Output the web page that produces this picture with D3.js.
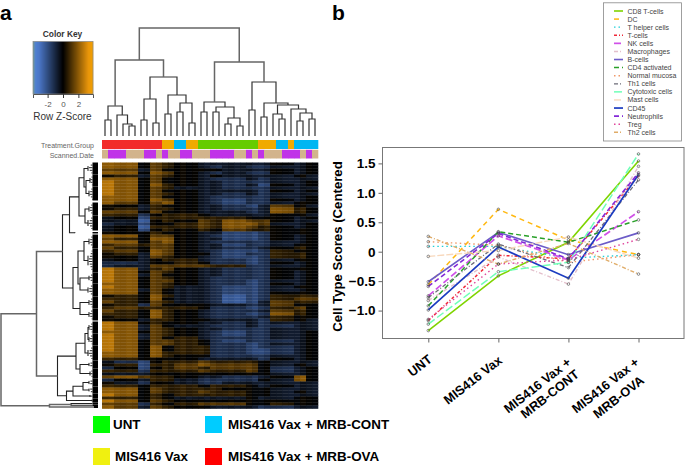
<!DOCTYPE html>
<html><head><meta charset="utf-8">
<script src="https://cdn.jsdelivr.net/npm/d3@7"></script>
<style>html,body{margin:0;padding:0;background:#fff}svg{display:block}text{font-family:"Liberation Sans",Arial,sans-serif}</style>
</head><body><div id="c"></div>
<script>
// ---------- heatmap data ----------
const heatGroupSpans=[2,4,2,2,2,4,2,2,4,2,2,4,2,2];
// per-column shift on top of the group value
const heatColBias=[.3,.4,.1,0,.2,.1,-.2,.1,.3,0,.2,-.2,0,.3,-.1,.1,.2,-.2,.2,-.1,0,.2,-.1,.1,.3,-.2,-.3,.1,.2,.1,-.1,-.2,-.2,.3,.1,-.1];
// each char: 4 = zero, 0 = strongest blue, 8 = strongest orange
const heatRows=[
"77465433333434","77465432322334","66364444333434","77476432322434","45365434333343","77464432232333",
"87464433222334","87475433231434","87465333222333","87464433332434","87465433232333","77464432222334",
"77476432122434","76467432122344","44354433213643","45355433223754","66464433323754","55245543333443",
"34155555544434","33045465766433","23144565776334","34055565765434","34145454655444","44454433112444",
"77466432112434","65477433112434","77467432222334","56566433122344","65466433223454","56476432112544",
"45376442122554","44365432112554","34345532212344","22344542212434","23366665522334","87356433222444",
"87465433222434","87364433222434","87465432222434","87466432212334","77465432212434","87465332112344",
"77364332112334","77464332112444","45475332012555","55474332012566","65465332013655","45264443323644",
"56555542212564","65475432223654","55475432212754","45475432223544","44355443332543","87454433232333",
"87364332232233","87365433222333","77465432122334","87365432122334","87364532222334","87466542122234",
"87466542212334","87474552212234","87474552211234","77475552211234","77475442222334","55444433332434",
"32145565554333","45155676664343","24145656664234","55255565564234","33344444444334","67655433223474",
"24355322224374","43244322333333","55455545543433","77465555444333","77465565544343","87454555544333",
"55454333343344","87465444444444","66254566644544","76365443332233"];
const treatmentRuns=[["OVA",10],["VAX",2],["CONT",2],["VAX",2],["UNT",10],["VAX",3],["CONT",2],["VAX",1],["CONT",4]];
const dateRuns=[[0,1],[1,3],[0,3],[1,2],[0,1],[1,1],[0,2],[1,2],[0,3],[1,4],[0,2],[1,1],[0,1],[1,1],[0,3],[1,3],[0,1],[1,1],[0,1]];
// column dendrogram: [height, left, right]; number leaves are column indices
const colTree=[108,
 [76,
  [30,[16,0,1],[21,2,[12,3,[10,4,5]]]],
  [59,[37,[16,6,7],[13,8,9]],[41,[22,10,11],[33,[24,12,13],[13,14,15]]]]],
 [74,
  [34,[24,16,17],[29,[24,18,19],[18,[12,20,21],[10,22,23]]]],
  [54,[26,24,25],[33,[19,26,27],[31,[22,28,[17,29,30]],[27,31,[23,[15,32,33],[17,34,35]]]]]]]];
// row dendrogram: [height,left,right]; ["fan",height,y0,y1] are dense leaf runs in row units
const F=(h,a,b)=>["fan",h,a,b];
const rowTree=[97,
 [61.5,
  [35.5,
   [28.5,[19,[14,F(10,0,12),[12,F(8,12,24),F(9,24,38)]],[13,F(9,40,53),F(10,53,68)]],F(23,69.5,71)],
   [25,[20,[14,F(9,72,86),F(10,86,110)],[18,F(9,110,121),F(10,121,134)]],[18,F(9,134,146),F(9,146,158)]]],
  [40.5,
   [22,[13,[10,F(9,159,171),F(9,171,183)],F(10,183,198)],[18,F(9,198,206),F(8,206,216)]],
   [31.5,[25,[15,F(9,216,224),F(9,224,231)],F(8,231,236)],F(6,236,240)]]],
 [48.5,[27,F(6,240,242),F(5,242,243.5)],F(4,243.5,245.5)]];
// ---------- line chart data ----------
const groups=["UNT","MIS416 Vax","MIS416 Vax +|MRB-CONT","MIS416 Vax +|MRB-OVA"];
const yTicks=[1.5,1.0,0.5,0,-0.5,-1.0];
const cellNames=["CD8 T-cells","DC","T helper cells","T-cells","NK cells","Macrophages","B-cells","CD4 activated","Normal mucosa","Th1 cells","Cytotoxic cells","Mast cells","CD45","Neutrophils","Treg","Th2 cells"];
const cellColors=["#7fd400","#ffb810","#20d0d8","#f02838","#d050e8","#e4c0cc","#6c5cc8","#28a028","#f09868","#6c6c78","#70ffb8","#f8d8bc","#1c3cc0","#8428d8","#e0459c","#e0ac68"];
const cellDash=["","5 4","1.5 3","3 2 1 2","7 3","4 2 1 2","","5 3","1.5 3","4 2 1 2","8 3","7 2","","5 3","1.5 3","4 2 1 2"];
const cellWidth=[1.6,1.5,1.4,1.5,1.7,1.4,1.6,1.5,1.4,1.3,1.5,1.4,1.7,1.6,1.4,1.4];
const cd8=[-1.34,-0.41,0.16,1.54], dc=[-0.56,0.72,0.2,-0.05], thelper=[0.09,0.09,-0.11,-0.05], tcells=[-1.17,-0.06,-0.12,1.29],
 nk=[-0.75,0.27,-0.14,0.68], macro=[-0.83,-0.09,-0.55,1.45], bcells=[-0.51,0.33,-0.05,0.32], cd4=[-0.92,0.34,0.16,0.54],
 mucosa=[0.17,0.11,-0.18,-0.05], th1=[-0.78,0.13,-0.27,1.22], cyto=[-1.23,-0.34,-0.18,1.66], mast=[-0.08,0.02,0.25,-0.11],
 cd45=[-0.99,0.08,-0.45,1.31], neutro=[-0.59,0.31,-0.12,1.34], treg=[-1.15,-0.21,-0.14,0.21], th2=[0.26,-0.21,0.14,-0.38];
const cellSeries=[cd8,dc,thelper,tcells,nk,macro,bcells,cd4,mucosa,th1,cyto,mast,cd45,neutro,treg,th2];
const legendGroups=[["UNT","#00ff00"],["MIS416 Vax + MRB-CONT","#00ccff"],["MIS416 Vax","#f0f010"],["MIS416 Vax + MRB-OVA","#ff0000"]];

// ---------- drawing ----------
const svg=d3.select("#c").append("svg").attr("width",685).attr("height",465);
const label=(s,x,y,o={})=>svg.append("text").attr("x",x).attr("y",y).text(s)
  .attr("font-size",o.size||8).attr("font-weight",o.bold?"bold":null).attr("fill",o.fill||"#000").attr("text-anchor",o.anchor||"start");
label("a",0,19.5,{size:21,bold:true}); label("b",332,19.5,{size:21,bold:true});

const keyColor=d3.scaleLinear().domain([-3.9,-3.55,-3.1,0,3.3,3.9]).range(["#6f9a98","#4f7fd0","#4a76c6","#000","#e8950a","#f2a000"]);
const heatColor=(d,b)=>keyColor((d-4+b)*0.6);
const colX=d3.scaleBand().domain(d3.range(36)).range([102,318]);
const rowY=d3.scaleBand().domain(d3.range(heatRows.length)).range([162.5,408.5]);
const colGroup=heatGroupSpans.flatMap((n,i)=>Array(n).fill(i));
const cells=heatRows.flatMap((r,ri)=>colGroup.map((g,c)=>({c,ri,v:+r[g]})));
svg.append("g").selectAll("rect").data(cells).join("rect")
  .attr("x",d=>colX(d.c)).attr("y",d=>rowY(d.ri)).attr("width",colX.bandwidth()+.3).attr("height",rowY.bandwidth()+.3)
  .attr("fill",d=>heatColor(d.v,heatColBias[d.c]));

// annotation strips
const treatColor={OVA:"#f22b2b",VAX:"#f0aa00",CONT:"#00b6f2",UNT:"#66cc00"}, dateColor=["#d2b48c","#c033e8"];
const expand=runs=>runs.flatMap(([k,n])=>Array(n).fill(k));
svg.append("g").selectAll("rect").data(expand(treatmentRuns)).join("rect").attr("x",(d,i)=>colX(i)).attr("y",140)
  .attr("width",colX.bandwidth()+.3).attr("height",9).attr("fill",d=>treatColor[d]);
svg.append("g").selectAll("rect").data(expand(dateRuns)).join("rect").attr("x",(d,i)=>colX(i)).attr("y",149.8)
  .attr("width",colX.bandwidth()+.3).attr("height",8.7).attr("fill",d=>dateColor[d]);
label("Treatment.Group",94,148,{size:7,anchor:"end",fill:"#666"});
label("Scanned.Date",94,157.5,{size:7,anchor:"end",fill:"#666"});

// top dendrogram
const topH=d3.scaleLinear().domain([0,108]).range([136,28]);
const topG=svg.append("g").attr("fill","none");
function drawTop(n){
  if(typeof n==="number") return {x:colX(n)+colX.bandwidth()/2,y:topH(0)};
  const a=drawTop(n[1]),b=drawTop(n[2]),y=topH(n[0]);
  topG.append("path").attr("d",`M${a.x},${a.y}V${y}H${b.x}V${b.y}`).attr("stroke",n[0]>70?"#666":"#333").attr("stroke-width",n[0]>70?1.5:1.2);
  return {x:(a.x+b.x)/2,y};
}
drawTop(colTree);

// left dendrogram
const leftH=d3.scaleLinear().domain([0,97]).range([98,1]);
const leftY=d3.scaleLinear().domain([0,246]).range([162.5,408.5]);
const leftG=svg.append("g").attr("fill","none");
function drawLeft(n){
  if(n[0]==="fan"){
    const [_,h,a,b]=n, x=leftH(h);
    // dense solid leaf block next to the heatmap, plus a comb of longer leaves reaching the run's node
    const base=Math.min(h,5.5);
    leftG.append("path").attr("d",`M${leftH(base)},${leftY(a)}V${leftY(b)}H${leftH(0)}V${leftY(a)}Z`).attr("fill","#000");
    d3.range(a,b,2.6).forEach((r,i)=>{
      const len=base+(h-base)*(1-Math.abs(r-(a+b)/2)/((b-a)/2))*0.9;
      leftG.append("path").attr("d",`M${leftH(len)},${leftY(r)}H${leftH(base)}`).attr("stroke","#111").attr("stroke-width",.9);
    });
    leftG.append("path").attr("d",`M${x},${leftY(a+(b-a)*.3)}V${leftY(b-(b-a)*.3)}`).attr("stroke","#111").attr("stroke-width",1);
    return {x,y:leftY((a+b)/2)};
  }
  const p=drawLeft(n[1]),q=drawLeft(n[2]),x=leftH(n[0]);
  leftG.append("path").attr("d",`M${p.x},${p.y}H${x}V${q.y}H${q.x}`).attr("stroke",n[0]>45?"#666":"#222").attr("stroke-width",n[0]>45?1.5:1.1);
  return {x,y:(p.y+q.y)/2};
}
drawLeft(rowTree);

// colour key
const keyX=d3.scaleLinear().domain([-3.9,3.9]).range([33,93]);
svg.append("g").selectAll("rect").data(d3.range(33,93)).join("rect").attr("x",d=>d).attr("y",41.5).attr("width",1.2).attr("height",52.5)
  .attr("fill",d=>keyColor(keyX.invert(d+.5)));
svg.append("rect").attr("x",33).attr("y",41.5).attr("width",60).attr("height",52.5).attr("fill","none").attr("stroke","#888").attr("stroke-width",.7);
const keyAxis=svg.append("g").attr("transform","translate(0,94)").call(d3.axisBottom(keyX).tickValues([-2,0,2]).tickSize(4).tickFormat(d3.format("d")));
keyAxis.select(".domain").attr("stroke","#555");
keyAxis.selectAll("line").attr("stroke","#333");
keyAxis.selectAll("text").attr("font-size",8).attr("fill","#555").attr("font-family",'"Liberation Sans"').attr("dy",".75em").text(d=>d===-2?"-2":d);
label("Color Key",62.5,37,{size:8.4,bold:true,anchor:"middle",fill:"#333"});
label("Row Z-Score",62.5,120,{size:10,anchor:"middle",fill:"#333"});

// line chart
const xP=d3.scalePoint().domain(groups).range([428.3,638.5]);
const yL=d3.scaleLinear().domain([0,1.5]).range([251.7,163.4]);
svg.append("rect").attr("x",382.5).attr("y",147.5).attr("width",301.5).attr("height",191).attr("fill","none").attr("stroke","#777").attr("stroke-width",1);
const yA=svg.append("g").attr("transform","translate(382.5,0)").call(d3.axisLeft(yL).tickValues(yTicks).tickSize(4).tickFormat(d=>d===0?"0":d3.format(".1f")(d)));
yA.select(".domain").remove(); yA.selectAll("line").attr("stroke","#666");
yA.selectAll("text").attr("font-size",13.5).attr("font-weight","bold").attr("fill","#000").attr("font-family",'"Liberation Sans"').attr("x",-7);
const xA=svg.append("g").attr("transform","translate(0,338.5)").call(d3.axisBottom(xP).tickSize(4).tickFormat(""));
xA.select(".domain").remove(); xA.selectAll("line").attr("stroke","#666");
svg.append("text").attr("transform","translate(341.5,246.5) rotate(-90)").attr("text-anchor","middle").attr("font-size",13.2).attr("font-weight","bold").text("Cell Type Scores (Centered");
const line=d3.line().x((d,i)=>xP(groups[i])).y(d=>yL(d));
cellSeries.forEach((s,k)=>{
  svg.append("path").attr("d",line(s)).attr("fill","none").attr("stroke",cellColors[k]).attr("stroke-width",cellWidth[k]).attr("stroke-dasharray",cellDash[k]);
});
cellSeries.forEach(s=>{
  svg.append("g").selectAll("circle").data(s).join("circle").attr("cx",(d,i)=>xP(groups[i])).attr("cy",d=>yL(d)).attr("r",1.3)
    .attr("fill","none").attr("stroke","#444").attr("stroke-width",.6);
});
// x labels
const lblAnchor=[[433,357],[503,358],[572,360],[640,360]], lbl2=[null,null,[580,372],[645,378]];
groups.forEach((g,i)=>{
  g.split("|").forEach((t,j)=>{
    const p=j===0?lblAnchor[i]:lbl2[i];
    svg.append("text").attr("transform",`translate(${p[0]},${p[1]+4}) rotate(-38)`).attr("text-anchor","end")
      .attr("font-size",12.8).attr("font-weight","bold").text(t);
  });
});
// line legend
svg.append("rect").attr("x",603.5).attr("y",2.8).attr("width",78).attr("height",138.2).attr("fill","#fff").attr("stroke","#888").attr("stroke-width",.8);
const legY=d3.scalePoint().domain(cellNames).range([11,132.3]);
cellNames.forEach((n,k)=>{
  svg.append("line").attr("x1",614).attr("x2",623).attr("y1",legY(n)).attr("y2",legY(n)).attr("stroke",cellColors[k]).attr("stroke-width",cellWidth[k]).attr("stroke-dasharray",cellDash[k]);
  label(n,627.5,legY(n)+2.5,{size:7,fill:"#444"});
});
// group legend
const gx=[[93,113],[205,228],[93,115],[205,228]], gy=[416,416,448,448];
legendGroups.forEach(([t,c],i)=>{
  svg.append("rect").attr("x",gx[i][0]).attr("y",gy[i]).attr("width",17).attr("height",17).attr("fill",c);
  label(t,gx[i][1],gy[i]+13,{size:13.4,bold:true});
});
</script></body></html>
